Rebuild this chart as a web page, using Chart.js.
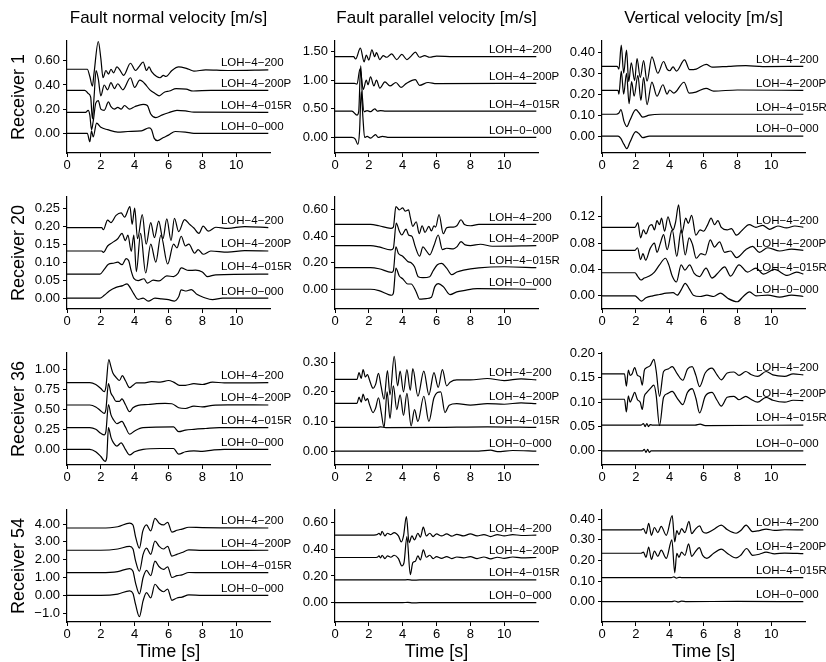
<!DOCTYPE html>
<html>
<head>
<meta charset="utf-8">
<title>Velocity traces</title>
<script src="https://cdn.jsdelivr.net/npm/chart.js@4.4.1/dist/chart.umd.min.js"></script>
<style>
  html, body { margin: 0; padding: 0; background: #fff; }
  body { width: 826px; height: 662px; position: relative; overflow: hidden; }
  canvas { position: absolute; }
</style>
</head>
<body>
<script>
// time axis
const xTicks = [0, 2, 4, 6, 8, 10];
const labelAt = 9.1;
const traceNames = ['LOH\u22124\u2212200', 'LOH\u22124\u2212200P', 'LOH\u22124\u2212015R', 'LOH\u22120\u2212000'];
const componentTitles = ['Fault normal velocity [m/s]', 'Fault parallel velocity [m/s]', 'Vertical velocity [m/s]'];
const receiverNames = ['Receiver 1', 'Receiver 20', 'Receiver 36', 'Receiver 54'];

// ---- Receiver 1 ----
const fn1_200 = [[0,0.53],[1.2,0.53],[1.35,0.47],[1.5,0.39],[1.6,0.5],[1.85,0.76],[2.0,0.62],[2.13,0.46],[2.3,0.52],[2.45,0.49],[2.6,0.53],[2.75,0.5],[2.95,0.55],[3.1,0.53],[3.35,0.48],[3.75,0.58],[4.05,0.52],[4.25,0.55],[4.5,0.59],[4.7,0.52],[4.85,0.55],[5.0,0.51],[5.3,0.47],[5.5,0.46],[5.7,0.48],[5.85,0.47],[6.2,0.52],[6.6,0.55],[7.0,0.54],[7.2,0.53],[7.5,0.515],[8.2,0.525],[9.5,0.52],[11.9,0.525]];
const fn1_200P = [[0,0.356],[1.05,0.356],[1.25,0.33],[1.4,0.3],[1.5,0.12],[1.6,0.3],[1.72,0.52],[1.85,0.45],[2.0,0.31],[2.2,0.4],[2.4,0.36],[2.6,0.42],[2.8,0.37],[3.0,0.41],[3.3,0.36],[3.75,0.46],[4.0,0.38],[4.3,0.44],[4.45,0.43],[4.6,0.41],[4.9,0.36],[5.2,0.33],[5.45,0.31],[5.75,0.34],[6.05,0.35],[6.45,0.37],[7.05,0.365],[7.45,0.35],[8.5,0.356],[11.9,0.356]];
const fn1_015R = [[0,0.174],[1.1,0.174],[1.25,0.19],[1.35,0.15],[1.45,0.03],[1.55,0.1],[1.7,0.25],[1.85,0.27],[2.0,0.2],[2.2,0.19],[2.45,0.26],[2.6,0.22],[2.8,0.2],[3.0,0.215],[3.2,0.2],[3.4,0.23],[3.7,0.2],[4.0,0.22],[4.5,0.24],[4.75,0.23],[4.95,0.16],[5.25,0.13],[5.6,0.15],[6.0,0.17],[6.5,0.19],[7.0,0.185],[7.5,0.175],[11.9,0.174]];
const fn1_000 = [[0,0],[1.2,0],[1.35,-0.07],[1.45,0.02],[1.55,-0.03],[1.75,0.085],[2.0,0.05],[2.4,0.03],[3.0,0.01],[3.6,0.015],[4.4,0.02],[4.85,0.045],[5.0,0.03],[5.15,-0.04],[5.35,-0.06],[5.7,-0.035],[6.0,-0.015],[6.4,0.015],[7.0,0.01],[7.5,0],[11.9,0]];

const fp1_200 = [[0,1.41],[1.1,1.41],[1.22,1.37],[1.5,1.56],[1.72,1.32],[1.85,1.44],[2.0,1.35],[2.18,1.53],[2.35,1.41],[2.45,1.48],[2.65,1.36],[2.85,1.43],[3.05,1.4],[3.35,1.46],[3.65,1.36],[3.95,1.45],[4.25,1.36],[4.5,1.42],[4.75,1.49],[5.0,1.4],[5.3,1.43],[5.6,1.4],[6.0,1.42],[7,1.41],[11.9,1.41]];
const fp1_200P = [[0,0.945],[1.15,0.945],[1.3,0.93],[1.48,1.2],[1.67,0.84],[1.85,1.0],[1.95,0.92],[2.1,1.06],[2.3,0.9],[2.45,1.0],[2.65,0.86],[2.95,0.97],[3.25,0.9],[3.6,0.96],[3.9,0.875],[4.2,0.94],[4.75,1.01],[5.0,0.91],[5.5,0.96],[6.0,0.94],[11.9,0.945]];
const fp1_015R = [[0,0.46],[1.0,0.46],[1.3,0.39],[1.4,0.45],[1.52,1.25],[1.62,0.7],[1.72,0.45],[1.9,0.47],[2.1,0.45],[2.35,0.5],[2.5,0.46],[2.7,0.47],[3.0,0.46],[11.9,0.46]];
const fp1_000 = [[0,0],[1.0,0],[1.2,-0.03],[1.35,-0.12],[1.45,0.1],[1.55,0.8],[1.65,0.35],[1.75,0.0],[1.9,0.02],[2.1,-0.01],[2.4,0.05],[2.55,0.0],[2.8,0.02],[3.2,0.0],[11.9,0]];

const vz1_200 = [[0,0.333],[0.9,0.333],[1.0,0.32],[1.14,0.434],[1.28,0.3],[1.45,0.41],[1.58,0.26],[1.73,0.35],[1.93,0.265],[2.07,0.37],[2.26,0.28],[2.46,0.36],[2.66,0.262],[2.95,0.378],[3.3,0.3],[3.64,0.356],[3.85,0.32],[4.0,0.312],[4.2,0.33],[4.4,0.31],[4.88,0.364],[5.18,0.317],[5.57,0.32],[6.16,0.342],[6.5,0.329],[7.5,0.333],[8.5,0.336],[9.5,0.332],[11.9,0.333]];
const vz1_200P = [[0,0.218],[0.95,0.218],[1.0,0.2],[1.14,0.31],[1.28,0.2],[1.45,0.3],[1.6,0.155],[1.75,0.26],[1.9,0.19],[2.12,0.29],[2.3,0.17],[2.46,0.28],[2.66,0.15],[2.95,0.258],[3.25,0.19],[3.6,0.245],[3.85,0.2],[4.0,0.22],[4.25,0.205],[4.85,0.257],[5.15,0.205],[5.55,0.21],[6.15,0.228],[6.6,0.215],[8,0.22],[11.9,0.218]];
const vz1_015R = [[0,0.104],[0.85,0.104],[1.0,0.11],[1.12,0.126],[1.3,0.07],[1.47,0.045],[1.65,0.075],[2.0,0.126],[2.2,0.11],[2.4,0.09],[2.8,0.1],[3.5,0.104],[11.9,0.104]];
const vz1_000 = [[0,0],[0.95,0],[1.1,-0.01],[1.3,-0.04],[1.47,-0.06],[1.65,-0.03],[2.0,0.021],[2.2,0.01],[2.4,-0.008],[2.8,0.0],[11.9,0]];

// ---- Receiver 20 ----
const fn20_200 = [[0,0.196],[2.05,0.196],[2.15,0.19],[2.4,0.217],[2.6,0.21],[2.9,0.23],[3.2,0.237],[3.4,0.225],[3.72,0.254],[3.85,0.205],[4.0,0.25],[4.17,0.165],[4.45,0.232],[4.68,0.15],[4.95,0.21],[5.17,0.168],[5.42,0.214],[5.67,0.165],[5.9,0.22],[6.15,0.16],[6.35,0.222],[6.6,0.185],[6.95,0.218],[7.25,0.205],[7.5,0.195],[7.8,0.18],[8.05,0.2],[8.35,0.186],[8.8,0.197],[9.5,0.194],[10.5,0.199],[11.9,0.196]];
const fn20_200P = [[0,0.131],[2.05,0.131],[2.15,0.127],[2.4,0.145],[2.7,0.155],[3.0,0.165],[3.25,0.18],[3.45,0.16],[3.6,0.175],[3.8,0.13],[3.95,0.175],[4.1,0.074],[4.35,0.18],[4.65,0.07],[4.95,0.15],[5.25,0.1],[5.55,0.175],[5.95,0.095],[6.3,0.15],[6.5,0.14],[6.75,0.172],[7.0,0.145],[7.2,0.15],[7.55,0.125],[7.75,0.135],[8.05,0.122],[8.5,0.131],[9.5,0.128],[10.5,0.132],[11.9,0.131]];
const fn20_015R = [[0,0.067],[1.95,0.067],[2.2,0.08],[2.45,0.094],[2.75,0.097],[3.0,0.1],[3.25,0.093],[3.5,0.11],[3.65,0.104],[3.8,0.075],[3.95,0.055],[4.2,0.049],[4.55,0.054],[4.75,0.042],[5.1,0.05],[5.45,0.048],[5.9,0.062],[6.3,0.06],[6.55,0.068],[6.75,0.084],[7.2,0.077],[7.6,0.078],[8.0,0.073],[8.3,0.06],[8.8,0.065],[11.9,0.067]];
const fn20_000 = [[0,0],[1.95,0],[2.2,0.008],[2.5,0.02],[2.9,0.03],[3.3,0.035],[3.55,0.04],[3.75,0.028],[3.95,0.012],[4.2,-0.003],[4.5,0.0],[4.8,-0.008],[5.2,0.0],[5.6,-0.002],[6.0,-0.004],[6.35,-0.008],[6.6,0.004],[6.75,0.023],[7.05,0.02],[7.35,0.024],[7.7,0.01],[8.1,0.002],[8.6,-0.004],[9.2,0.0],[11.9,0.0]];

const fp20_200 = [[0,0.49],[2.1,0.49],[2.6,0.48],[3.3,0.46],[3.45,0.47],[3.6,0.625],[3.8,0.6],[4.0,0.615],[4.15,0.59],[4.35,0.6],[4.45,0.545],[4.6,0.475],[4.8,0.51],[4.98,0.42],[5.15,0.48],[5.32,0.43],[5.55,0.475],[5.7,0.44],[5.85,0.48],[5.95,0.47],[6.15,0.565],[6.4,0.42],[6.6,0.465],[6.8,0.47],[7.0,0.47],[7.2,0.48],[7.45,0.525],[7.65,0.49],[8.0,0.48],[8.5,0.49],[11.9,0.49]];
const fp20_200P = [[0,0.33],[2.1,0.33],[2.6,0.32],[3.3,0.297],[3.45,0.31],[3.62,0.5],[3.8,0.44],[3.95,0.41],[4.2,0.455],[4.35,0.41],[4.55,0.4],[4.75,0.32],[5.0,0.25],[5.2,0.32],[5.4,0.29],[5.6,0.26],[5.85,0.33],[6.1,0.41],[6.35,0.3],[6.6,0.31],[7.0,0.305],[7.2,0.32],[7.45,0.36],[7.7,0.335],[8.0,0.33],[8.6,0.34],[9.3,0.325],[11.9,0.33]];
const fp20_015R = [[0,0.163],[2.1,0.163],[2.6,0.155],[3.35,0.128],[3.45,0.14],[3.6,0.32],[3.75,0.27],[4.0,0.25],[4.3,0.21],[4.5,0.2],[4.7,0.17],[4.92,0.095],[5.2,0.088],[5.6,0.095],[5.8,0.14],[6.05,0.185],[6.3,0.196],[6.6,0.16],[6.9,0.11],[7.2,0.13],[7.6,0.145],[8.5,0.162],[10,0.17],[11.9,0.163]];
const fp20_000 = [[0,0],[2.1,0],[2.6,-0.01],[3.35,-0.045],[3.45,-0.03],[3.6,0.16],[3.8,0.1],[4.0,0.08],[4.3,0.04],[4.5,0.04],[4.8,-0.02],[5.0,-0.075],[5.4,-0.07],[5.7,-0.06],[5.9,0.02],[6.1,0.043],[6.4,0.02],[6.8,-0.04],[7.2,-0.02],[7.6,-0.01],[8.4,0.005],[11.9,0]];

const vz20_200 = [[0,0.104],[1.95,0.104],[2.12,0.111],[2.28,0.088],[2.45,0.1],[2.6,0.094],[2.8,0.106],[2.95,0.108],[3.1,0.1],[3.25,0.114],[3.4,0.108],[3.52,0.118],[3.7,0.098],[3.9,0.12],[4.05,0.108],[4.2,0.1],[4.35,0.112],[4.53,0.138],[4.72,0.095],[4.95,0.118],[5.1,0.11],[5.3,0.122],[5.55,0.092],[5.8,0.1],[6.0,0.098],[6.25,0.108],[6.45,0.118],[6.65,0.108],[6.85,0.114],[7.05,0.104],[7.4,0.1],[7.65,0.102],[7.95,0.092],[8.3,0.1],[8.7,0.108],[9.1,0.104],[9.5,0.107],[9.9,0.101],[10.4,0.106],[10.9,0.103],[11.4,0.106],[11.9,0.104]];
const vz20_200P = [[0,0.069],[1.95,0.069],[2.1,0.073],[2.28,0.055],[2.42,0.064],[2.58,0.054],[2.85,0.072],[3.1,0.08],[3.25,0.066],[3.45,0.08],[3.64,0.093],[3.85,0.07],[4.15,0.1],[4.42,0.06],[4.68,0.1],[4.92,0.062],[5.15,0.088],[5.35,0.078],[5.57,0.057],[5.85,0.064],[6.1,0.062],[6.4,0.085],[6.65,0.074],[6.95,0.082],[7.25,0.066],[7.6,0.068],[7.95,0.058],[8.5,0.07],[8.9,0.075],[9.3,0.066],[9.8,0.073],[10.5,0.068],[11.2,0.071],[11.9,0.069]];
const vz20_015R = [[0,0.035],[1.95,0.035],[2.1,0.03],[2.3,0.024],[2.5,0.027],[2.8,0.03],[3.1,0.036],[3.4,0.047],[3.75,0.057],[3.95,0.047],[4.15,0.03],[4.4,0.021],[4.68,0.047],[4.9,0.039],[5.18,0.047],[5.45,0.034],[5.75,0.029],[6.15,0.042],[6.5,0.027],[6.9,0.036],[7.25,0.044],[7.6,0.03],[8.1,0.047],[8.6,0.036],[9.1,0.042],[9.55,0.033],[10.2,0.04],[10.95,0.031],[11.5,0.036],[11.9,0.033]];
const vz20_000 = [[0,0],[1.95,0],[2.1,-0.003],[2.32,-0.008],[2.6,-0.003],[3.0,0.0],[3.4,0.002],[3.8,0.004],[4.2,0.005],[4.45,0.001],[4.68,0.009],[4.92,0.019],[5.15,0.011],[5.4,0.001],[5.8,-0.001],[6.2,0.001],[6.6,-0.001],[7.0,0.004],[7.45,-0.004],[8.0,-0.009],[8.35,-0.001],[8.72,0.006],[9.1,0.0],[9.8,0.001],[10.5,-0.002],[11.2,0.001],[11.9,-0.001]];

// ---- Receiver 36 ----
const fn36_200 = [[0,0.833],[1.35,0.833],[1.7,0.81],[2.0,0.76],[2.2,0.72],[2.3,0.78],[2.47,1.12],[2.6,1.03],[2.72,0.95],[2.9,0.9],[3.1,0.86],[3.27,0.92],[3.45,0.86],[3.7,0.77],[3.9,0.8],[4.1,0.83],[4.5,0.83],[5.0,0.845],[5.5,0.84],[6.0,0.86],[6.3,0.84],[6.65,0.8],[7.0,0.8],[7.5,0.82],[8.0,0.81],[8.6,0.84],[9.3,0.83],[11.9,0.833]];
const fn36_200P = [[0,0.554],[1.35,0.554],[1.7,0.53],[2.0,0.48],[2.2,0.45],[2.3,0.5],[2.45,0.82],[2.6,0.7],[2.72,0.66],[2.9,0.6],[3.1,0.6],[3.25,0.63],[3.45,0.56],[3.7,0.47],[3.9,0.52],[4.2,0.55],[4.8,0.56],[5.3,0.57],[5.8,0.575],[6.2,0.57],[6.6,0.52],[7.0,0.51],[7.5,0.54],[8.0,0.53],[8.6,0.55],[9.5,0.555],[11.9,0.554]];
const fn36_015R = [[0,0.27],[1.35,0.27],[1.7,0.25],[2.0,0.2],[2.2,0.18],[2.3,0.22],[2.45,0.56],[2.6,0.43],[2.75,0.37],[2.95,0.32],[3.25,0.35],[3.45,0.28],[3.7,0.19],[4.0,0.23],[4.5,0.27],[6.3,0.28],[6.6,0.22],[7.0,0.24],[7.5,0.25],[8.2,0.26],[9.0,0.27],[11.9,0.27]];
const fn36_000 = [[0,0],[1.35,0],[1.7,-0.03],[2.0,-0.09],[2.25,-0.15],[2.35,-0.1],[2.45,0.27],[2.6,0.15],[2.75,0.08],[2.95,0.04],[3.2,0.08],[3.45,0.0],[3.7,-0.07],[4.0,-0.03],[4.5,0.0],[5.5,0.01],[6.3,0.01],[6.6,-0.06],[7.0,-0.03],[7.5,-0.02],[8.0,-0.025],[8.6,-0.01],[9.3,0.0],[11.9,0]];

const fp36_200 = [[0,0.242],[1.3,0.242],[1.42,0.265],[1.55,0.245],[1.66,0.275],[1.8,0.25],[1.92,0.258],[2.05,0.238],[2.25,0.212],[2.4,0.225],[2.57,0.262],[2.72,0.22],[2.9,0.175],[3.1,0.272],[3.25,0.19],[3.5,0.32],[3.7,0.22],[3.85,0.27],[4.05,0.2],[4.25,0.275],[4.45,0.205],[4.6,0.278],[4.9,0.185],[5.25,0.27],[5.55,0.19],[5.85,0.265],[6.1,0.215],[6.35,0.275],[6.6,0.22],[6.8,0.232],[7.2,0.24],[8,0.24],[9,0.245],[10,0.238],[11,0.244],[11.9,0.24]];
const fp36_200P = [[0,0.161],[1.3,0.161],[1.42,0.182],[1.55,0.165],[1.66,0.192],[1.8,0.17],[1.92,0.177],[2.05,0.155],[2.25,0.13],[2.4,0.145],[2.57,0.18],[2.72,0.135],[2.9,0.08],[3.08,0.2],[3.25,0.11],[3.45,0.22],[3.65,0.14],[3.85,0.19],[4.05,0.12],[4.25,0.195],[4.5,0.085],[4.7,0.14],[4.9,0.1],[5.25,0.185],[5.55,0.1],[5.85,0.18],[6.25,0.2],[6.5,0.13],[6.75,0.155],[7.2,0.16],[8,0.155],[9,0.16],[10,0.158],[11,0.163],[11.9,0.16]];
const fp36_015R = [[0,0.08],[2.5,0.08],[2.7,0.082],[3.0,0.079],[6,0.08],[9,0.082],[11.9,0.08]];
const fp36_000 = [[0,0],[8.5,0],[9.2,0.003],[9.6,-0.002],[10.5,0.002],[11.9,0]];

const vz36_200 = [[0,0.158],[1.33,0.158],[1.44,0.133],[1.56,0.166],[1.66,0.155],[1.78,0.158],[1.93,0.171],[2.1,0.155],[2.26,0.152],[2.38,0.135],[2.5,0.165],[2.6,0.17],[2.85,0.175],[3.07,0.188],[3.2,0.165],[3.4,0.112],[3.64,0.163],[3.9,0.168],[4.15,0.173],[4.45,0.158],[4.78,0.145],[5.05,0.168],[5.33,0.173],[5.55,0.155],[5.77,0.132],[6.1,0.16],[6.5,0.17],[6.8,0.156],[7.05,0.146],[7.4,0.16],[7.8,0.162],[8.1,0.155],[8.5,0.163],[8.8,0.157],[9.2,0.153],[9.7,0.163],[10.1,0.156],[10.8,0.153],[11.3,0.158],[11.9,0.156]];
const vz36_200P = [[0,0.106],[1.33,0.106],[1.44,0.08],[1.56,0.113],[1.66,0.1],[1.8,0.11],[1.93,0.12],[2.1,0.105],[2.26,0.1],[2.38,0.085],[2.5,0.112],[2.65,0.12],[2.85,0.128],[3.07,0.135],[3.2,0.115],[3.4,0.052],[3.64,0.11],[3.9,0.118],[4.15,0.122],[4.45,0.108],[4.78,0.095],[5.05,0.12],[5.33,0.128],[5.55,0.108],[5.77,0.078],[6.1,0.112],[6.5,0.12],[6.8,0.104],[7.05,0.092],[7.4,0.11],[7.8,0.112],[8.1,0.105],[8.5,0.112],[8.8,0.106],[9.2,0.1],[9.7,0.11],[10.1,0.104],[10.8,0.1],[11.3,0.104],[11.9,0.103]];
const vz36_015R = [[0,0.053],[2.3,0.053],[2.45,0.056],[2.55,0.05],[2.65,0.056],[2.75,0.05],[2.85,0.054],[3.0,0.053],[5.5,0.053],[5.8,0.055],[6.1,0.052],[11.9,0.053]];
const vz36_000 = [[0,0],[2.4,0],[2.5,0.003],[2.6,-0.003],[2.7,0.003],[2.8,-0.003],[2.9,0],[11.9,0]];

// ---- Receiver 54 ----
const fn54_200 = [[0,3.78],[2.0,3.78],[3.0,3.85],[3.7,4.05],[3.9,3.95],[4.05,3.3],[4.28,2.65],[4.48,3.6],[4.7,3.95],[4.95,3.62],[5.2,4.32],[5.45,4.05],[5.7,3.95],[5.95,4.1],[6.2,3.55],[6.5,3.65],[6.8,3.72],[7.2,3.82],[8.0,3.8],[11.9,3.78]];
const fn54_200P = [[0,2.53],[2.0,2.53],[3.0,2.6],[3.7,2.75],[3.9,2.6],[4.05,1.95],[4.28,1.35],[4.5,2.3],[4.7,2.65],[4.95,2.3],[5.2,3.05],[5.45,2.75],[5.7,2.6],[5.95,2.75],[6.2,2.2],[6.5,2.3],[6.8,2.4],[7.2,2.55],[8.0,2.52],[11.9,2.53]];
const fn54_015R = [[0,1.27],[2.0,1.27],[3.0,1.33],[3.7,1.5],[3.9,1.35],[4.05,0.7],[4.28,0.08],[4.5,1.0],[4.7,1.4],[4.95,1.1],[5.2,1.92],[5.45,1.6],[5.7,1.45],[5.95,1.6],[6.2,1.0],[6.5,1.1],[6.8,1.15],[7.2,1.28],[8.0,1.27],[11.9,1.27]];
const fn54_000 = [[0,0],[2.0,0],[3.0,0.07],[3.7,0.25],[3.9,0.1],[4.05,-0.5],[4.28,-1.2],[4.5,-0.3],[4.7,0.15],[4.95,-0.15],[5.2,0.62],[5.45,0.35],[5.7,0.2],[5.95,0.35],[6.2,-0.28],[6.5,-0.15],[6.8,-0.1],[7.2,0.02],[8.0,0],[11.9,0]];

const fp54_200 = [[0,0.506],[2.3,0.506],[2.5,0.51],[2.6,0.52],[2.7,0.505],[2.78,0.535],[2.95,0.5],[3.1,0.52],[3.3,0.51],[3.5,0.525],[3.75,0.5],[3.92,0.455],[4.05,0.5],[4.22,0.645],[4.38,0.45],[4.55,0.5],[4.7,0.47],[4.9,0.52],[5.05,0.49],[5.22,0.565],[5.4,0.5],[5.6,0.52],[5.8,0.495],[6.0,0.515],[6.3,0.5],[6.6,0.515],[6.9,0.498],[7.2,0.512],[7.6,0.5],[8.0,0.515],[8.4,0.5],[8.8,0.51],[9.2,0.495],[9.6,0.51],[10.0,0.5],[10.5,0.51],[11.0,0.503],[11.9,0.506]];
const fp54_200P = [[0,0.338],[2.3,0.338],[2.5,0.34],[2.6,0.35],[2.7,0.335],[2.78,0.355],[2.95,0.33],[3.1,0.35],[3.3,0.34],[3.5,0.355],[3.75,0.33],[3.95,0.275],[4.08,0.3],[4.25,0.495],[4.45,0.21],[4.6,0.3],[4.75,0.31],[4.9,0.35],[5.05,0.32],[5.22,0.395],[5.4,0.34],[5.6,0.355],[5.8,0.33],[6.0,0.345],[6.3,0.332],[6.6,0.345],[6.9,0.33],[7.2,0.342],[7.6,0.335],[8.0,0.345],[8.4,0.33],[8.8,0.342],[9.2,0.328],[9.6,0.34],[10.0,0.332],[10.5,0.342],[11.0,0.335],[11.9,0.338]];
const fp54_015R = [[0,0.17],[4.0,0.17],[4.3,0.172],[4.6,0.168],[5.0,0.17],[11.9,0.17]];
const fp54_000 = [[0,0],[4.0,0],[4.3,0.002],[4.6,-0.002],[5.0,0],[11.9,0]];

const vz54_200 = [[0,0.348],[2.3,0.348],[2.45,0.355],[2.6,0.33],[2.76,0.38],[2.92,0.322],[3.1,0.36],[3.3,0.335],[3.5,0.365],[3.8,0.322],[4.15,0.418],[4.3,0.29],[4.42,0.345],[4.55,0.325],[4.7,0.355],[4.9,0.335],[5.14,0.39],[5.3,0.33],[5.5,0.35],[5.77,0.368],[5.95,0.34],[6.16,0.333],[6.6,0.35],[7.05,0.372],[7.4,0.35],[7.93,0.332],[8.2,0.345],[8.52,0.372],[8.9,0.34],[9.3,0.345],[9.7,0.352],[10.2,0.346],[10.8,0.349],[11.9,0.348]];
const vz54_200P = [[0,0.235],[2.3,0.235],[2.45,0.24],[2.6,0.215],[2.76,0.265],[2.92,0.205],[3.1,0.245],[3.3,0.22],[3.5,0.25],[3.8,0.21],[4.13,0.3],[4.3,0.14],[4.42,0.235],[4.55,0.215],[4.7,0.24],[4.9,0.225],[5.12,0.28],[5.3,0.22],[5.5,0.24],[5.75,0.262],[5.95,0.225],[6.2,0.21],[6.6,0.235],[7.05,0.255],[7.4,0.235],[7.93,0.212],[8.2,0.225],[8.55,0.258],[8.9,0.225],[9.3,0.23],[9.7,0.24],[10.2,0.232],[10.8,0.236],[11.9,0.233]];
const vz54_015R = [[0,0.117],[4.1,0.117],[4.25,0.12],[4.4,0.114],[4.55,0.118],[4.7,0.117],[11.9,0.117]];
const vz54_000 = [[0,0],[4.1,0],[4.3,0.003],[4.5,-0.002],[4.7,0.002],[5,0],[8,0.001],[11.9,0]];

// y ticks and ranges per panel
const fn1Ticks = [0, 0.2, 0.4, 0.6];
const fp1Ticks = [0, 0.5, 1, 1.5];
const vz1Ticks = [0, 0.1, 0.2, 0.3, 0.4];
const fn20Ticks = [0, 0.05, 0.1, 0.15, 0.2, 0.25];
const fp20Ticks = [0, 0.2, 0.4, 0.6];
const vz20Ticks = [0, 0.04, 0.08, 0.12];
const fn36Ticks = [0, 0.25, 0.5, 0.75, 1];
const fp36Ticks = [0, 0.1, 0.2, 0.3];
const vz36Ticks = [0, 0.05, 0.1, 0.15, 0.2];
const fn54Ticks = [-1, 0, 1, 2, 3, 4];
const fp54Ticks = [0, 0.2, 0.4, 0.6];
const vz54Ticks = [0, 0.1, 0.2, 0.3, 0.4];

const fn1Range = [-0.163, 0.764];
const fp1Range = [-0.271, 1.684];
const vz1Range = [-0.081, 0.454];
const fn20Range = [-0.030, 0.281];
const fp20Range = [-0.149, 0.697];
const vz20Range = [-0.020, 0.150];
const fn36Range = [-0.196, 1.204];
const fp36Range = [-0.047, 0.331];
const vz36Range = [-0.029, 0.201];
const fn54Range = [-1.50, 4.79];
const fp54Range = [-0.145, 0.694];
const vz54Range = [-0.099, 0.445];

const panels = [
  [[fn1_200, fn1_200P, fn1_015R, fn1_000], fn1Ticks, fn1Range],
  [[fp1_200, fp1_200P, fp1_015R, fp1_000], fp1Ticks, fp1Range],
  [[vz1_200, vz1_200P, vz1_015R, vz1_000], vz1Ticks, vz1Range],
  [[fn20_200, fn20_200P, fn20_015R, fn20_000], fn20Ticks, fn20Range],
  [[fp20_200, fp20_200P, fp20_015R, fp20_000], fp20Ticks, fp20Range],
  [[vz20_200, vz20_200P, vz20_015R, vz20_000], vz20Ticks, vz20Range],
  [[fn36_200, fn36_200P, fn36_015R, fn36_000], fn36Ticks, fn36Range],
  [[fp36_200, fp36_200P, fp36_015R, fp36_000], fp36Ticks, fp36Range],
  [[vz36_200, vz36_200P, vz36_015R, vz36_000], vz36Ticks, vz36Range],
  [[fn54_200, fn54_200P, fn54_015R, fn54_000], fn54Ticks, fn54Range],
  [[fp54_200, fp54_200P, fp54_015R, fp54_000], fp54Ticks, fp54Range],
  [[vz54_200, vz54_200P, vz54_015R, vz54_000], vz54Ticks, vz54Range],
];

// page layout of the plot boxes
const FONT = '"Liberation Sans", Arial, Helvetica, sans-serif';
const colLeft = [67, 335, 602];
const rowTop = [41, 197, 353, 510];
const plotW = 203;
const plotH = 112;
const padTop = 12;
const padRight = 70;

const fmtTick = (v) => (v < 0 ? `\u2212${Math.abs(v).toFixed(1)}` : v.toFixed(2));

// names of the four runs, written just above each trace's tail
const traceLabels = {
  id: 'traceLabels',
  afterDatasetsDraw(chart) {
    const { ctx } = chart;
    const xs = chart.scales.x;
    const ys = chart.scales.y;
    ctx.save();
    ctx.font = `11.5px ${FONT}`;
    ctx.fillStyle = '#000';
    ctx.textAlign = 'left';
    ctx.textBaseline = 'bottom';
    chart.data.datasets.forEach((ds, i) => {
      const tail = ds.data[ds.data.length - 1][1];
      ctx.fillText(traceNames[i], xs.getPixelForValue(labelAt), ys.getPixelForValue(tail) - 1);
    });
    ctx.restore();
  },
};

panels.forEach(([traces, yTicks, yRange], idx) => {
  const row = Math.floor(idx / 3);
  const col = idx % 3;
  const yWidth = col === 0 ? colLeft[0] : 60;
  const xHeight = row === 3 ? 48 : 26;
  const top = row === 0 ? 0 : rowTop[row] - padTop;
  const headH = rowTop[row] - top;
  const width = yWidth + plotW + padRight;
  const height = headH + plotH + xHeight;

  const canvas = document.createElement('canvas');
  canvas.width = width;
  canvas.height = height;
  canvas.style.left = `${colLeft[col] - yWidth}px`;
  canvas.style.top = `${top}px`;
  canvas.style.width = `${width}px`;
  canvas.style.height = `${height}px`;
  document.body.appendChild(canvas);

  // eslint-disable-next-line no-undef, no-new
  new Chart(canvas, {
    type: 'line',
    data: {
      datasets: traces.map((pts) => ({
        data: pts,
        borderColor: '#000',
        borderWidth: 1.2,
        pointRadius: 0,
        cubicInterpolationMode: 'monotone',
        clip: 6,
      })),
    },
    options: {
      responsive: false,
      animation: false,
      devicePixelRatio: 1,
      layout: { padding: { top: row === 0 ? 0 : padTop, right: padRight, left: 0, bottom: 0 } },
      plugins: {
        legend: { display: false },
        tooltip: { enabled: false },
        title: {
          display: row === 0,
          text: componentTitles[col],
          fullSize: false,
          color: '#000',
          font: { family: FONT, size: 17, weight: 'normal' },
          padding: { top: 8, bottom: rowTop[0] - 8 - 20.4 },
        },
      },
      scales: {
        x: {
          type: 'linear',
          min: 0,
          max: 12,
          afterBuildTicks: (s) => { s.ticks = xTicks.map((v) => ({ value: v })); },
          afterFit: (s) => { s.height = xHeight; },
          ticks: {
            color: '#000', padding: 1, maxRotation: 0, font: { family: FONT, size: 13 },
            callback: (v) => String(v),
          },
          grid: { display: true, drawOnChartArea: false, drawTicks: true, tickLength: 4, color: '#000', lineWidth: 1 },
          border: { display: true, color: '#000', width: 1.2 },
          title: {
            display: row === 3,
            text: 'Time [s]',
            color: '#000',
            font: { family: FONT, size: 18 },
            padding: { top: 0, bottom: 7 },
          },
        },
        y: {
          type: 'linear',
          min: yRange[0],
          max: yRange[1],
          afterBuildTicks: (s) => { s.ticks = yTicks.map((v) => ({ value: v })); },
          afterFit: (s) => { s.width = yWidth; },
          ticks: {
            color: '#000', padding: 3, font: { family: FONT, size: 13 },
            callback: (v) => fmtTick(v),
          },
          grid: { display: true, drawOnChartArea: false, drawTicks: true, tickLength: 4, color: '#000', lineWidth: 1 },
          border: { display: true, color: '#000', width: 1.2 },
          title: {
            display: col === 0,
            text: receiverNames[row],
            color: '#000',
            font: { family: FONT, size: 18 },
            padding: { top: 8, bottom: 0 },
          },
        },
      },
    },
    plugins: [traceLabels],
  });
});
</script>
</body>
</html>
